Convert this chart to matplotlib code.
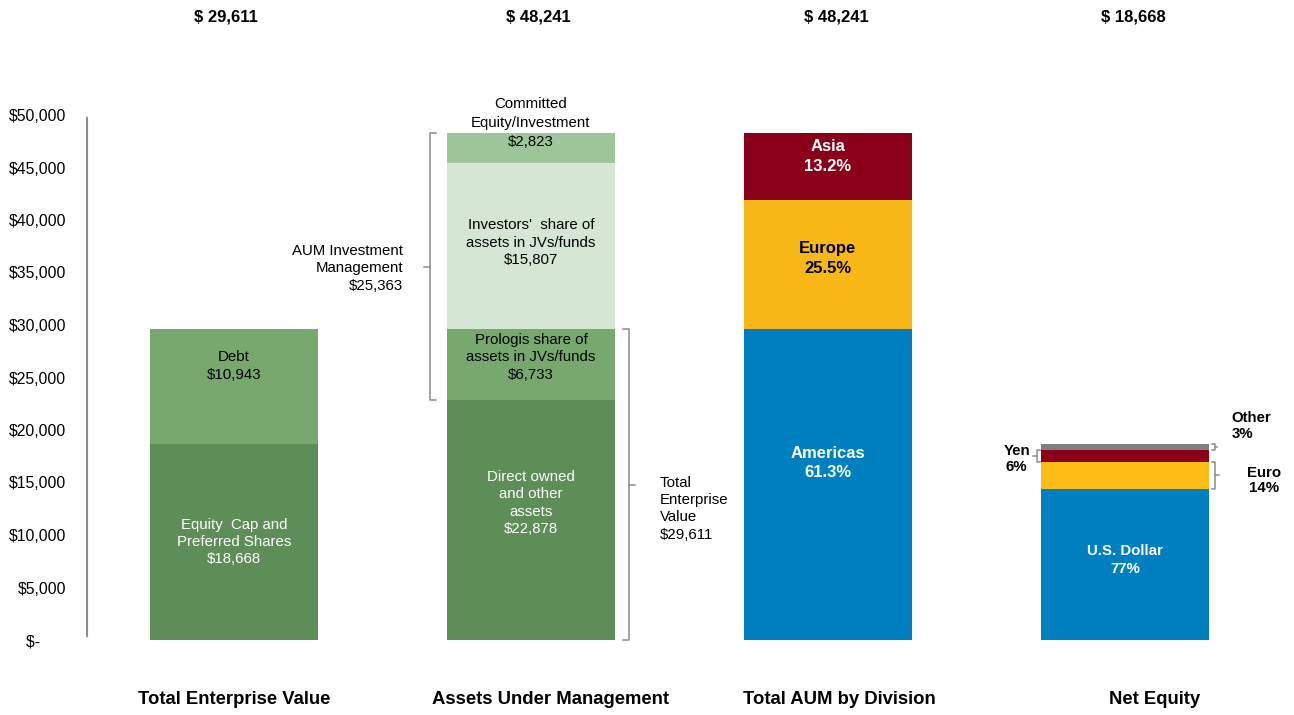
import matplotlib.pyplot as plt
import matplotlib.transforms as mtrans
import numpy as np

plt.rcParams['font.family'] = ['Liberation Sans', 'DejaVu Sans']

# --- data ---
categories = ['Total Enterprise Value', 'Assets Under Management',
              'Total AUM by Division', 'Net Equity']
totals = [29611, 48241, 48241, 18668]

tev_vals = [18668, 10943]                      # equity, debt
aum_vals = [22878, 6733, 15807, 2823]          # direct, prologis share, investors, committed
div_pct = [61.3, 25.5, 13.2]                   # Americas, Europe, Asia
cur_pct = [77, 14, 6, 3]                       # USD, Euro, Yen, Other

yticks = np.arange(0, 50001, 5000)

# label nudges (layout only)
top_dx = [-0.027, 0.024, 0.027, 0.03]
bot_dx = [0.0, 0.067, 0.04, 0.1]

fig = plt.figure(figsize=(12.94, 7.15), dpi=100)
ax = fig.add_axes([87/1294, 75/715, (1290-87)/1294, 525/715])

w = 0.566
gray = '#8c8c8c'
fs = 10.8
ls = 1.3

def stack(x, vals, colors):
    bottoms = np.concatenate([[0], np.cumsum(vals)[:-1]])
    ax.bar([x]*len(vals), vals, width=w, bottom=bottoms, color=colors, linewidth=0)
    return bottoms

def bracket(x, y0, y1, d, t):
    ax.plot([x + d, x, x, x + d], [y0, y0, y1, y1], color=gray, lw=1.1, clip_on=False)
    ym = (y0 + y1) / 2
    ax.plot([x, x + t], [ym, ym], color=gray, lw=1.1, clip_on=False)

# bar 1 - total enterprise value
b1 = stack(0, tev_vals, ['#5e8e58', '#77a96f'])
ax.text(0, b1[0] + tev_vals[0]*0.5, 'Equity  Cap and\nPreferred Shares\n$18,668',
        ha='center', va='center', color='white', fontsize=fs, linespacing=ls)
ax.text(0, b1[1] + tev_vals[1]*0.68, 'Debt\n$10,943',
        ha='center', va='center', color='black', fontsize=fs, linespacing=ls)

# bar 2 - assets under management
b2 = stack(1, aum_vals, ['#5e8e58', '#77a96f', '#d6e6d4', '#9cc59a'])
ax.text(1, b2[0] + aum_vals[0]*0.57, 'Direct owned\nand other\nassets\n$22,878',
        ha='center', va='center', color='white', fontsize=fs, linespacing=ls)
ax.text(1, b2[1] + aum_vals[1]*0.6, 'Prologis share of\nassets in JVs/funds\n$6,733',
        ha='center', va='center', color='black', fontsize=fs, linespacing=ls)
ax.text(1, b2[2] + aum_vals[2]*0.52, "Investors'  share of\nassets in JVs/funds\n$15,807",
        ha='center', va='center', color='black', fontsize=fs, linespacing=ls)
ax.text(1, 49200, 'Committed\nEquity/Investment\n$2,823',
        ha='center', va='center', color='black', fontsize=fs, linespacing=1.45)

# brackets for bar 2
bracket(1 - w/2 - 0.058, b2[1], totals[1], 0.02, -0.02)
ax.text(0.57, 35400, 'AUM Investment\nManagement\n$25,363', ha='right', va='center',
        fontsize=fs, linespacing=ls)
bracket(1 + w/2 + 0.047, 0, totals[0], -0.02, 0.02)
ax.text(1.433, 12500, 'Total\nEnterprise\nValue\n$29,611', ha='left', va='center',
        fontsize=fs, linespacing=ls)

# bar 3 - AUM by division
div_vals = [totals[2] * p / 100 for p in div_pct]
b3 = stack(2, div_vals, ['#0080c0', '#f8b918', '#8b0019'])
ax.text(2, b3[0] + div_vals[0]*0.57, 'Americas\n%.1f%%' % div_pct[0],
        ha='center', va='center', color='white', fontsize=12, fontweight='bold',
        linespacing=1.4)
ax.text(2, b3[1] + div_vals[1]*0.55, 'Europe\n%.1f%%' % div_pct[1],
        ha='center', va='center', color='black', fontsize=12, fontweight='bold',
        linespacing=1.4)
ax.text(2, b3[2] + div_vals[2]*0.65, 'Asia\n%.1f%%' % div_pct[2],
        ha='center', va='center', color='white', fontsize=12, fontweight='bold',
        linespacing=1.4)

# bar 4 - net equity by currency
cur_vals = [totals[3] * p / 100 for p in cur_pct]
b4 = stack(3, cur_vals, ['#0080c0', '#fbbc16', '#8b0019', '#7f7f7f'])
ax.text(3, b4[0] + cur_vals[0]*0.53, 'U.S. Dollar\n%d%%' % cur_pct[0],
        ha='center', va='center', color='white', fontsize=fs, fontweight='bold',
        linespacing=1.3)

bracket(3 - w/2 - 0.013, b4[2], b4[2] + cur_vals[2], 0.01, -0.015)
ax.text(2.636, 17250, 'Yen\n6%', ha='center', va='center', fontsize=fs, fontweight='bold',
        linespacing=1.15)
bracket(3 + w/2 + 0.02, b4[1], b4[1] + cur_vals[1], -0.01, 0.015)
ax.text(3.47, 15200, 'Euro\n14%', ha='center', va='center', fontsize=fs, fontweight='bold',
        linespacing=1.15)
bracket(3 + w/2 + 0.02, b4[3], totals[3], -0.008, 0.008)
ax.text(3.36, 20400, 'Other\n3%', ha='left', va='center', fontsize=fs, fontweight='bold',
        linespacing=1.15)

# totals above, category names below
trans = mtrans.blended_transform_factory(ax.transData, fig.transFigure)
for i, (c, t) in enumerate(zip(categories, totals)):
    ax.text(i + top_dx[i], 1 - 17/715, '$ {:,}'.format(t), transform=trans, ha='center',
            va='center', fontsize=12, fontweight='bold')
    ax.text(i + bot_dx[i], 15/715, c, transform=trans, ha='center', va='center',
            fontsize=13.3, fontweight='bold')

ax.set_xlim(-0.495, 3.556)
ax.set_ylim(0, 50000)
ax.set_yticks(yticks)
ax.set_yticklabels(['$-      '] + ['${:,}'.format(v) for v in yticks[1:]])
ax.tick_params(axis='y', length=0, pad=15, labelsize=11.3)
ax.set_xticks([])
for s in ['top', 'right', 'bottom']:
    ax.spines[s].set_visible(False)
ax.spines['left'].set_color(gray)
ax.spines['left'].set_linewidth(1.5)
ax.spines['left'].set_bounds(400, 49700)

fig.savefig('out.png', dpi=100)
